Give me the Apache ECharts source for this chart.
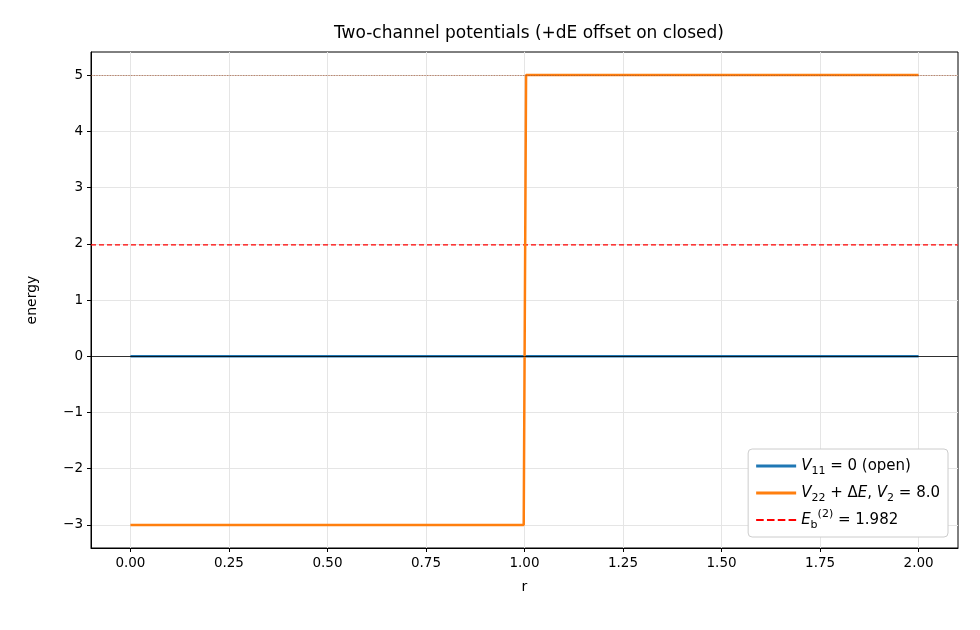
<!DOCTYPE html>
<html><head><meta charset="utf-8">
<script src="https://cdn.jsdelivr.net/npm/echarts@6/dist/echarts.min.js"></script>
<style>html,body{margin:0;padding:0;background:#fff}#c{width:980px;height:630px}</style>
</head><body><div id="c"></div>
<script>
const openX = [0, 2];
const openY = [0, 0];
const closedX = [0, 0.998, 1.004, 2];
const closedY = [-3, -3, 5, 5];
const dE = 5;
const Eb = 1.982;
const xTicks = [0, 0.25, 0.5, 0.75, 1.0, 1.25, 1.5, 1.75, 2.0];
const yTicks = [-3, -2, -1, 0, 1, 2, 3, 4, 5];

const font = 'DejaVu Sans';
const chart = echarts.init(document.getElementById('c'));
const rich = {
  i: {fontFamily: font, fontStyle: 'italic', fontSize: 15, color: '#000'},
  s: {fontFamily: font, fontSize: 11, color: '#000', verticalAlign: 'bottom', padding: [6,0,0,0]},
  p: {fontFamily: font, fontSize: 11, color: '#000', verticalAlign: 'top', padding: [0,0,8,0]},
  n: {fontFamily: font, fontSize: 15, color: '#000'}
};
const names = ['open', 'closed', 'eb'];
const labels = {
  open: '{i|V}{s|11}{n| = 0 (open)}',
  closed: '{i|V}{s|22}{n| + Δ}{i|E}{n|, }{i|V}{s|2}{n| = 8.0}',
  eb: '{i|E}{s|b}{p|(2)}{n| = 1.982}'
};
const solidIcon = 'path://M0,0 L40,0 L40,3 L0,3 Z';
const dashIcon = 'path://M0,0 L7,0 L7,2 L0,2 Z M10,0 L17,0 L17,2 L10,2 Z M20,0 L27,0 L27,2 L20,2 Z M30,0 L37,0 L37,2 L30,2 Z';
chart.setOption({
  animation: false,
  title: {text: 'Two-channel potentials (+dE offset on closed)', left: 524, top: 20, textAlign: 'center',
    textStyle: {fontFamily: font, fontSize: 17, fontWeight: 'normal', color: '#000'}},
  grid: {left: 91, right: 22, top: 52, bottom: 82, show: true, borderColor: '#000', borderWidth: 1},
  xAxis: {type: 'value', min: -0.1, max: 2.1, name: 'r', nameLocation: 'middle', nameGap: 32,
    nameTextStyle: {fontFamily: font, fontSize: 14, color: '#000'},
    axisLine: {onZero: false, lineStyle: {color: '#000'}},
    axisTick: {length: 4, customValues: xTicks, lineStyle: {color: '#000'}},
    axisLabel: {fontFamily: font, fontSize: 13.5, color: '#000', margin: 8,
      customValues: xTicks, formatter: v => v.toFixed(2)},
    splitLine: {show: true, lineStyle: {color: '#e5e5e5'}}},
  yAxis: {type: 'value', min: -3.41, max: 5.41, name: 'energy', nameLocation: 'middle', nameGap: 52,
    nameTextStyle: {fontFamily: font, fontSize: 14, color: '#000'},
    axisLine: {show: true, onZero: false, lineStyle: {color: '#000'}},
    axisTick: {show: true, length: 4, customValues: yTicks, lineStyle: {color: '#000'}},
    axisLabel: {fontFamily: font, fontSize: 13.5, color: '#000', customValues: yTicks, formatter: v => v < 0 ? '−' + (-v) : '' + v},
    splitLine: {show: true, lineStyle: {color: '#e5e5e5'}}},
  legend: {orient: 'vertical', right: 32, bottom: 93, backgroundColor: '#fff', borderColor: '#ccc', borderWidth: 1, borderRadius: 4,
    padding: [6, 8, 6, 8], itemGap: 5, itemWidth: 40, itemHeight: 3, align: 'left',
    data: [{name: 'open', icon: solidIcon}, {name: 'closed', icon: solidIcon}, {name: 'eb', icon: dashIcon}],
    formatter: n => labels[n], textStyle: {rich: rich, lineHeight: 22}},
  series: [
    {name: 'eb', type: 'line', data: [[-0.1, Eb], [2.1, Eb]], symbol: 'none', lineStyle: {color: '#ff0000', width: 1.3, type: [5, 3]}, itemStyle: {color: '#ff0000'}, z: 2,
      markLine: {silent: true, symbol: 'none', label: {show: false}, data: [{yAxis: 0, lineStyle: {color: '#000', width: 0.8, type: 'solid'}}, {yAxis: dE, lineStyle: {color: '#a0522d', width: 0.8, type: 'dotted'}}]}},
    {name: 'open', type: 'line', data: openX.map((x, i) => [x, openY[i]]), symbol: 'none', lineStyle: {color: '#1f77b4', width: 2.5}, itemStyle: {color: '#1f77b4'}, z: 3},
    {name: 'closed', type: 'line', data: closedX.map((x, i) => [x, closedY[i]]), symbol: 'none', lineStyle: {color: '#ff7f0e', width: 2.5}, itemStyle: {color: '#ff7f0e'}, z: 4}
  ]
});
</script></body></html>
